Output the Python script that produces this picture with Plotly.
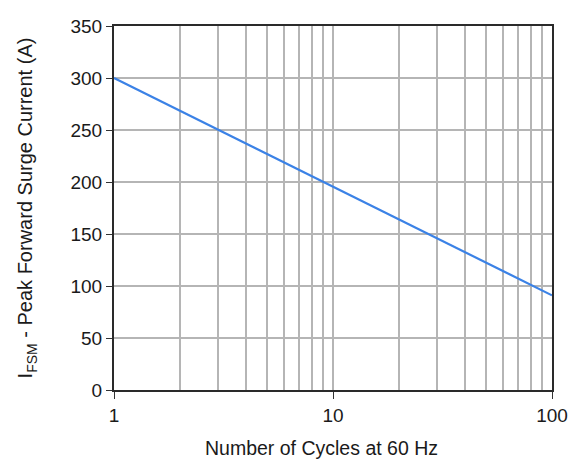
import plotly.graph_objects as go

cycles = [1, 3, 10, 30, 100]
current = [300, 250, 196, 146, 91]
x_major = [1, 10, 100]
x_major_text = ["1", "10", "100"]
x_minor = [2, 3, 4, 5, 6, 7, 8, 9, 20, 30, 40, 50, 60, 70, 80, 90]
y_ticks = [0, 50, 100, 150, 200, 250, 300, 350]
x_title = "Number of Cycles at 60 Hz"
y_title = "I<sub>FSM</sub> - Peak Forward Surge Current (A)"

fig = go.Figure()
fig.add_trace(go.Scatter(x=cycles, y=current, mode="lines",
                         line=dict(color="#3b82e6", width=2.2), showlegend=False))

font = dict(family="Liberation Sans, Arial, sans-serif", color="#1a1a1a")
fig.update_layout(
    width=571, height=451,
    margin=dict(l=106, r=27, t=8, b=69),
    paper_bgcolor="white", plot_bgcolor="white",
    font=font,
    xaxis=dict(
        type="log", range=[0, 2],
        tickvals=x_major, ticktext=x_major_text,
        ticks="outside", ticklen=7, tickcolor="#333", tickwidth=1,
        tickfont=dict(size=19), ticklabeloverflow="allow",
        showgrid=True, gridcolor="#b5b5b5", gridwidth=2,
        minor=dict(tickvals=x_minor, showgrid=True, gridcolor="#b5b5b5", gridwidth=2, ticks=""),
        showline=True, mirror=True, linecolor="#2a2a2a", linewidth=2,
        zeroline=False,
    ),
    yaxis=dict(
        range=[0, 350], tickvals=y_ticks,
        ticks="outside", ticklen=6, tickcolor="#333", tickwidth=1,
        tickfont=dict(size=19), ticklabeloverflow="allow",
        showgrid=True, gridcolor="#b5b5b5", gridwidth=2,
        showline=True, mirror=True, linecolor="#2a2a2a", linewidth=2,
        title=dict(text=y_title, font=dict(size=20), standoff=32),
        zeroline=False,
    ),
    annotations=[dict(text=x_title, xref="paper", yref="paper", x=0.474, y=0,
                      yshift=-45, xanchor="center", yanchor="top", showarrow=False,
                      font=dict(size=19.5))],
)
fig.write_html("out.html")
